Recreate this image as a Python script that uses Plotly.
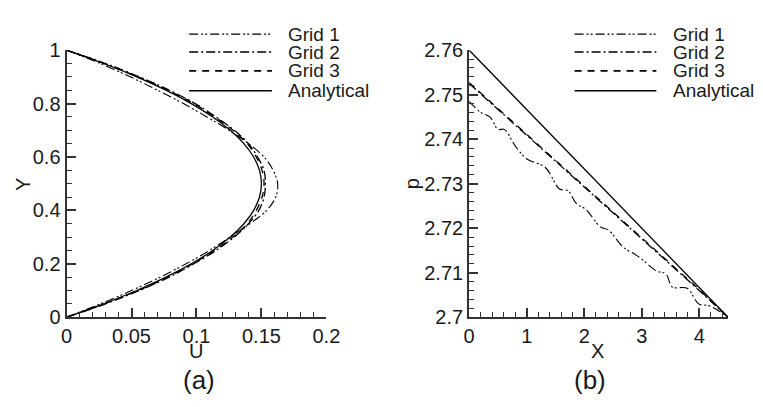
import plotly.graph_objects as go

# ---------------- data: panel (a) velocity profile ----------------
y_prof = [0, 0.05, 0.1, 0.15, 0.2, 0.25, 0.3, 0.35, 0.4, 0.45, 0.5,
          0.55, 0.6, 0.65, 0.7, 0.75, 0.8, 0.85, 0.9, 0.95, 1.0]
u_grid1 = [0, 0.026, 0.050, 0.072, 0.092, 0.110, 0.126, 0.141, 0.154, 0.161, 0.1625,
           0.159, 0.152, 0.140, 0.125, 0.108, 0.090, 0.070, 0.049, 0.026, 0]
u_grid2 = [0, 0.030, 0.056, 0.079, 0.098, 0.115, 0.129, 0.140, 0.148, 0.152, 0.153,
           0.152, 0.147, 0.140, 0.129, 0.115, 0.099, 0.079, 0.056, 0.030, 0]
u_grid3 = [0, 0.029, 0.055, 0.078, 0.097, 0.114, 0.128, 0.139, 0.146, 0.1505, 0.152,
           0.1505, 0.146, 0.139, 0.128, 0.114, 0.098, 0.078, 0.055, 0.029, 0]
u_anal = [0, 0.0285, 0.054, 0.0765, 0.096, 0.1125, 0.126, 0.1365, 0.144, 0.1485, 0.150,
          0.1485, 0.144, 0.1365, 0.126, 0.1125, 0.096, 0.0765, 0.054, 0.0285, 0]

# ---------------- data: panel (b) pressure along channel ----------------
x_g1 = [0, 0.19, 0.36, 0.5, 0.61, 0.81, 1.01, 1.32, 1.57, 1.72, 1.86, 2.03, 2.28, 2.42,
        2.68, 2.91, 3.05, 3.25, 3.42, 3.53, 3.79, 3.99, 4.16, 4.33, 4.5]
p_grid1 = [2.7485, 2.7461, 2.7450, 2.7422, 2.7422, 2.7383, 2.7355, 2.7337, 2.7288, 2.7284,
           2.7256, 2.7242, 2.7203, 2.7196, 2.7157, 2.7139, 2.7125, 2.7104, 2.7097, 2.7068,
           2.7065, 2.7030, 2.7026, 2.7015, 2.7000]
x_g23 = [0, 0.5, 1.0, 1.5, 2.0, 2.5, 3.0, 3.5, 4.0, 4.5]
p_grid2 = [2.7525, 2.7467, 2.7408, 2.7350, 2.7292, 2.7233, 2.7175, 2.7117, 2.7060, 2.7000]
p_grid3 = [2.7527, 2.7469, 2.7410, 2.7352, 2.7294, 2.7235, 2.7177, 2.7119, 2.7062, 2.7000]
x_an = [0, 4.5]
p_anal = [2.76, 2.70]

names = ["Grid 1", "Grid 2", "Grid 3", "Analytical"]
dashes = ["9px,3px,2px,2px,2px,3px", "9px,3px,2px,3px", "7px,6px", "solid"]
widths = [1.1, 1.3, 1.3, 1.3]

FONT = "Liberation Sans, Arial, sans-serif"
TXT = "#1a1a1a"
AX = "#333333"

fig = go.Figure()

prof = [u_grid1, u_grid2, u_grid3, u_anal]
for n, u, d, w in zip(names, prof, dashes, widths):
    fig.add_trace(go.Scatter(x=u, y=y_prof, mode="lines", name=n, showlegend=False,
                             line=dict(color="black", dash=d, width=w, shape="spline"),
                             xaxis="x", yaxis="y"))

pres = [(x_g1, p_grid1), (x_g23, p_grid2), (x_g23, p_grid3), (x_an, p_anal)]
for n, (xx, pp), d, w in zip(names, pres, dashes, widths):
    fig.add_trace(go.Scatter(x=xx, y=pp, mode="lines", name=n, showlegend=False,
                             line=dict(color="black", dash=d, width=w,
                                       shape="spline" if n == "Grid 1" else "linear"),
                             xaxis="x2", yaxis="y2"))

# page body has an 8px margin; make the figure fit the 763x407 window exactly
OFF = 8
W, H = 763 - 2 * OFF, 407 - 2 * OFF
def px(v): return (v - OFF) / W
def py(v): return 1 - (v - OFF) / H

axis_common = dict(showline=True, linecolor=AX, linewidth=2, ticks="inside",
                   ticklen=9, tickwidth=1.5, tickcolor=AX, showgrid=False, zeroline=False,
                   mirror=False, tickfont=dict(family=FONT, size=20, color=TXT))
minor_common = dict(ticks="inside", ticklen=5, tickcolor=AX, tickwidth=1.2)

fig.update_layout(
    width=W, height=H, margin=dict(l=0, r=0, t=0, b=0), autosize=False,
    paper_bgcolor="white", plot_bgcolor="white", showlegend=False,
    xaxis=dict(domain=[px(62), px(329)], range=[0, 0.2], dtick=0.05, anchor="y",
               minor=dict(dtick=0.01, **minor_common), **axis_common),
    yaxis=dict(domain=[py(324), py(41)], range=[0, 1], dtick=0.2, anchor="x",
               minor=dict(dtick=0.05, **minor_common), **axis_common),
    xaxis2=dict(domain=[px(475.7), px(741.7)], range=[0, 4.5], dtick=1, anchor="y2",
                minor=dict(dtick=0.2, **minor_common), **axis_common),
    yaxis2=dict(domain=[py(324), py(41)], range=[2.70, 2.76], dtick=0.01, anchor="x2",
                minor=dict(dtick=0.002, **minor_common), **axis_common),
)

ann = []
def text(x, y, s, size=20, angle=0, xanchor="center"):
    ann.append(dict(x=px(x), y=py(y), xref="paper", yref="paper", text=s, showarrow=False,
                    textangle=angle, xanchor=xanchor, yanchor="middle",
                    font=dict(family=FONT, size=size, color=TXT)))

# axis titles and panel labels
text(195, 360, "U")
text(17, 183, "Y", angle=-90)
text(198, 391, "(a)", size=26)
text(608, 360, "X")
text(417, 183, "p", angle=-90)
text(600, 391, "(b)", size=26)

# manual legends
rows = [24, 43, 63, 84]
shapes = []
for (lx0, lx1, tx) in [(188, 273, 287), (584, 668, 683)]:
    for n, d, w, ry in zip(names, dashes, widths, rows):
        shapes.append(dict(type="line", xref="paper", yref="paper",
                           x0=px(lx0), x1=px(lx1), y0=py(ry), y1=py(ry),
                           line=dict(color="black", dash=d, width=w + 0.3)))
        text(tx, ry, n, size=19, xanchor="left")

fig.update_layout(annotations=ann, shapes=shapes)
fig.write_html("out.html")
